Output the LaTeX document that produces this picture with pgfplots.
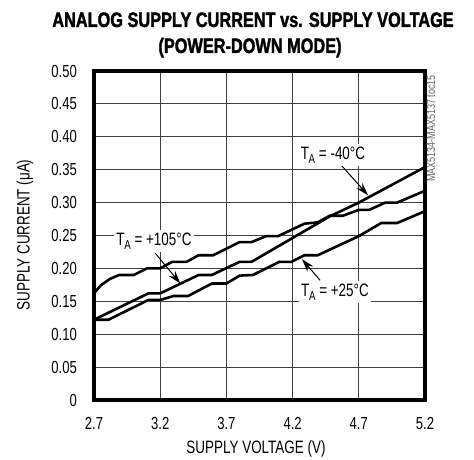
\documentclass[border=0pt]{standalone}
\usepackage{fontspec}
\setmainfont{Liberation Sans}[FakeStretch=0.75]
\newfontfamily\titlefont{Liberation Sans}[FakeStretch=0.78,FakeBold=1.6]
\usepackage{pgfplots}
\pgfplotsset{compat=1.18}
\usetikzlibrary{arrows.meta}
\newcommand{\TA}{T\kern-0.02em\raisebox{-0.45ex}{\fontsize{13}{13}\selectfont A}}
\tikzset{curve/.style={black, line width=2.6bp, line join=round, mark=none}}
\begin{document}
\begin{tikzpicture}
\useasboundingbox (0,0) rectangle (474bp,460bp);
\begin{axis}[
  at={(94bp,60bp)}, anchor=south west,
  scale only axis, width=331bp, height=329bp,
  xmin=2.7, xmax=5.2, ymin=0, ymax=0.5,
  xtick={2.7,3.2,3.7,4.2,4.7,5.2},
  xticklabels={2.7,3.2,3.7,4.2,4.7,5.2},
  ytick={0,0.05,0.10,0.15,0.20,0.25,0.30,0.35,0.40,0.45,0.50},
  yticklabels={0,0.05,0.10,0.15,0.20,0.25,0.30,0.35,0.40,0.45,0.50},
  major tick length=0pt,
  tick label style={font=\fontsize{17.5}{18}\selectfont},
  yticklabel style={anchor=east, inner sep=0pt, xshift=-17bp},
  xticklabel style={anchor=north, inner sep=0pt, yshift=-17bp},
  grid=major,
  major grid style={black!75, line width=1bp},
  axis line style={line width=3.2bp},
]
\addplot[curve] coordinates {
(2.70,0.162) (2.75,0.174) (2.82,0.184) (2.89,0.190) (3.00,0.190) (3.10,0.200)
(3.20,0.200) (3.29,0.210) (3.40,0.210) (3.49,0.220) (3.60,0.220) (3.80,0.240)
(3.89,0.240) (4.00,0.249) (4.09,0.249) (4.29,0.268) (4.39,0.270) (4.48,0.280)
(4.58,0.280) (4.70,0.289) (4.78,0.289) (4.90,0.300) (4.99,0.300) (5.20,0.318)
};
\addplot[curve] coordinates {
(2.70,0.122) (3.11,0.162) (3.20,0.162) (3.49,0.190) (3.59,0.190) (3.80,0.210)
(3.89,0.210) (4.48,0.279) (4.70,0.300) (5.20,0.354)
};
\addplot[curve] coordinates {
(2.70,0.122) (2.81,0.122) (3.11,0.152) (3.20,0.152) (3.30,0.158) (3.41,0.158)
(3.59,0.177) (3.70,0.177) (3.80,0.189) (3.90,0.190) (4.10,0.210) (4.19,0.210)
(4.29,0.220) (4.39,0.220) (4.70,0.249) (4.87,0.269) (4.99,0.269) (5.20,0.287)
};
\draw[line width=1bp, -{Stealth[length=13bp,width=8bp]}] (axis cs:3.163,0.223) -- (axis cs:3.352,0.177);
\draw[line width=1bp, -{Stealth[length=13bp,width=8bp]}] (axis cs:4.573,0.3556) -- (axis cs:4.77,0.311);
\draw[line width=1bp, -{Stealth[length=13bp,width=8bp]}] (axis cs:4.407,0.182) -- (axis cs:4.271,0.214);
\node[fill=white, inner sep=2.5bp, font=\fontsize{18}{18}\selectfont] at (axis cs:3.153,0.2416) {\TA\ = +105°C};
\node[fill=white, inner sep=2.5bp, font=\fontsize{18}{18}\selectfont] at (axis cs:4.505,0.372) {\TA\ = -40°C};
\node[fill=white, inner sep=2.5bp, font=\fontsize{18}{18}\selectfont] at (axis cs:4.52,0.164) {\TA\ = +25°C};
\end{axis}
\node[anchor=base, font=\titlefont\bfseries\fontsize{21}{21}\selectfont] at (253bp,433bp) {ANALOG SUPPLY CURRENT vs. SUPPLY VOLTAGE};
\node[anchor=base, font=\titlefont\bfseries\fontsize{21}{21}\selectfont] at (250bp,407bp) {(POWER-DOWN MODE)};
\node[font=\fontsize{18}{18}\selectfont] at (256bp,11bp) {SUPPLY VOLTAGE (V)};
\node[rotate=90, font=\fontsize{18}{18}\selectfont] at (25bp,225bp) {SUPPLY CURRENT (μA)};
\node[rotate=90, anchor=east, text=black!60, font=\fontsize{12}{12}\selectfont] at (431bp,388bp) {MAX5134-MAX5137 toc15};
\end{tikzpicture}
\end{document}
